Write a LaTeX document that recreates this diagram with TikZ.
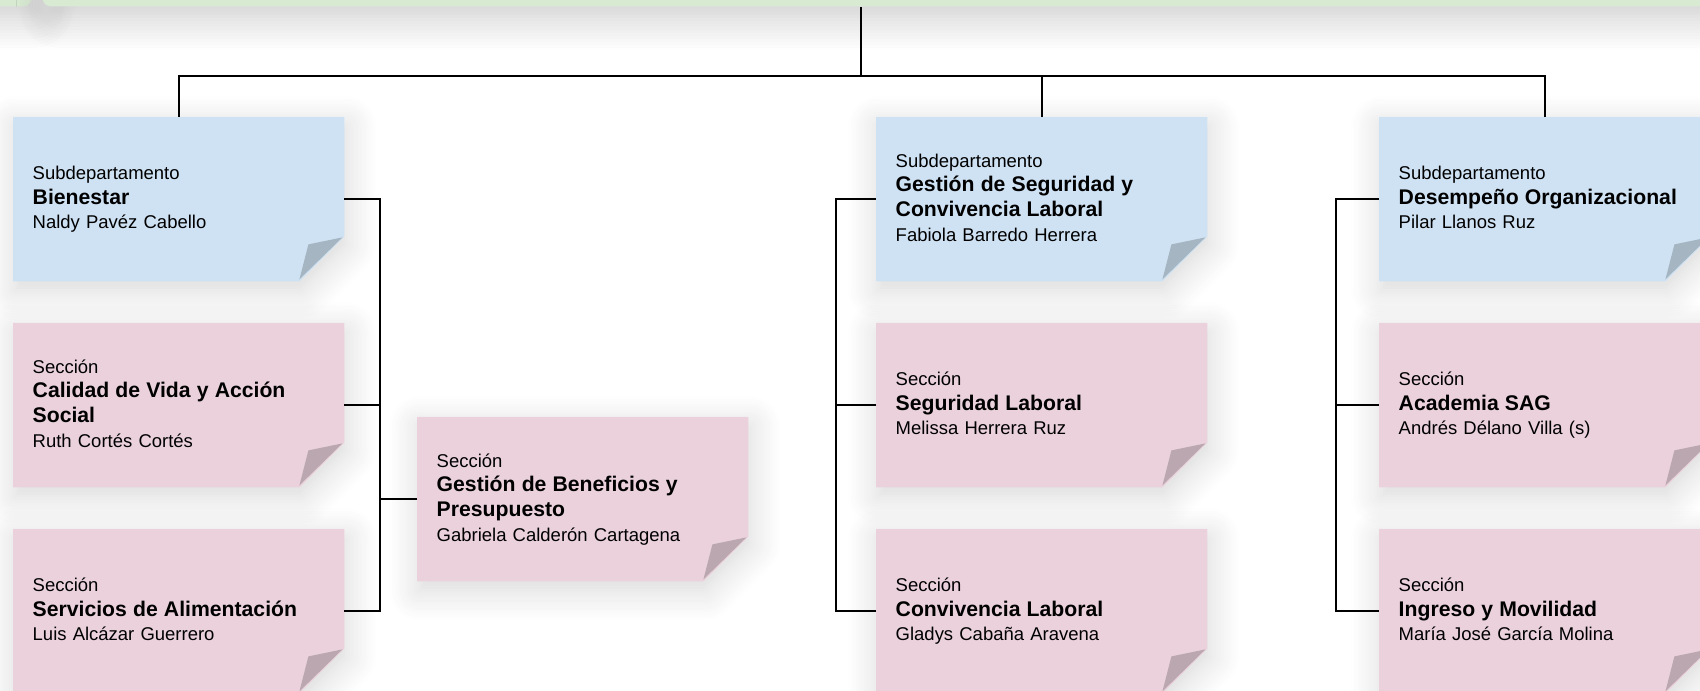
\documentclass[tikz,border=0pt]{standalone}
\usepackage{fontspec}
\setmainfont{Liberation Sans}
\usepackage{tikz}
\usetikzlibrary{positioning,calc,backgrounds,shadows.blur}
\definecolor{subfill}{HTML}{CFE2F3}
\definecolor{secfill}{HTML}{EAD1DC}
\definecolor{deptfill}{HTML}{D9EAD3}
\newcommand\unitname[1]{{\fontsize{6.03}{7}\selectfont\bfseries #1}}
\tikzset{
    note/.style={rectangle, anchor=north west, minimum width=3.3cm, minimum height=1.63cm,
        text width=2.92cm, inner xsep=0.19cm, inner ysep=0pt, align=left,
        execute at begin node=\strut, execute at end node=\strut,
        font=\fontsize{5.26}{7}\selectfont},
    link/.style={line width=0.6pt, black},
    soft/.style={blur shadow={shadow xshift=0.02cm, shadow yshift=-0.09cm, shadow blur radius=0.3cm,
        shadow blur steps=12, shadow opacity=16}},
    banner/.style={fill=deptfill, rounded corners=0.08cm, minimum height=0.8cm, anchor=south west, inner sep=0pt,
        blur shadow={shadow yshift=-0.1cm, shadow blur radius=0.35cm, shadow blur steps=12, shadow opacity=22}}
}

\begin{document}
\begin{tikzpicture}
    \useasboundingbox (0,0) rectangle (17,6.91);
    % department banner (cut off at the top)
    \node[banner, minimum width=1.4cm] (side) at (-1.09,6.84) {};
    \node[banner, minimum width=17cm] (dept) at (0.42,6.84) {};

    % subdepartamentos
    \node[note] (bien) at (0.13,5.74) {Subdepartamento\\ \unitname{Bienestar}\\ Naldy Pavéz Cabello};
    \node[note] (segc) at (8.76,5.74) {Subdepartamento\\ \unitname{Gestión de Seguridad y}\\ \unitname{Convivencia Laboral}\\ Fabiola Barredo Herrera};
    \node[note] (dese) at (13.79,5.74) {Subdepartamento\\ \unitname{Desempeño Organizacional}\\ Pilar Llanos Ruz};

    % secciones
    \node[note] (cali) at (0.13,3.68) {Sección\\ \unitname{Calidad de Vida y Acción}\\ \unitname{Social}\\ Ruth Cortés Cortés};
    \node[note] (alim) at (0.13,1.62) {Sección\\ \unitname{Servicios de Alimentación}\\ Luis Alcázar Guerrero};
    \node[note] (bene) at (4.17,2.74) {Sección\\ \unitname{Gestión de Beneficios y}\\ \unitname{Presupuesto}\\ Gabriela Calderón Cartagena};
    \node[note] (segl) at (8.76,3.68) {Sección\\ \unitname{Seguridad Laboral}\\ Melissa Herrera Ruz};
    \node[note] (conv) at (8.76,1.62) {Sección\\ \unitname{Convivencia Laboral}\\ Gladys Cabaña Aravena};
    \node[note] (acad) at (13.79,3.68) {Sección\\ \unitname{Academia SAG}\\ Andrés Délano Villa (s)};
    \node[note] (ingr) at (13.79,1.62) {Sección\\ \unitname{Ingreso y Movilidad}\\ María José García Molina};

    % sticky note paper with folded corner
    \begin{scope}[on background layer]
      \foreach \n/\c in {bien/subfill, segc/subfill, dese/subfill, cali/secfill, alim/secfill,
                         bene/secfill, segl/secfill, conv/secfill, acad/secfill, ingr/secfill}{
        \fill[\c, soft] (\n.north west) -- (\n.north east) -- ([yshift=4.5mm]\n.south east)
            -- ([xshift=-4.5mm]\n.south east) -- (\n.south west) -- cycle;
        \fill[\c!80!black] ([shift={(-0.2mm,4.4mm)}]\n.south east) -- ([shift={(-3.6mm,3.7mm)}]\n.south east)
            -- ([shift={(-4.5mm,0.2mm)}]\n.south east) -- cycle;
      }
    \end{scope}

    % tree
    \coordinate (hub) at (8.61,6.15);
    \draw[link] (hub |- dept.south) -- (hub);
    \draw[link] (bien.north) |- (hub) -| (dese.north);
    \draw[link] (hub) -| (segc.north);

    \coordinate (busL) at ([xshift=3.6mm]bien.east);
    \draw[link] (bien.east) -- (busL) |- (alim.east);
    \draw[link] (cali.east) -- (cali.east -| busL);
    \draw[link] (bene.west) -- (bene.west -| busL);

    \coordinate (busM) at ([xshift=-4mm]segc.west);
    \draw[link] (segc.west) -- (busM) |- (conv.west);
    \draw[link] (segl.west) -- (segl.west -| busM);

    \coordinate (busR) at ([xshift=-4.3mm]dese.west);
    \draw[link] (dese.west) -- (busR) |- (ingr.west);
    \draw[link] (acad.west) -- (acad.west -| busR);
\end{tikzpicture}
\end{document}
